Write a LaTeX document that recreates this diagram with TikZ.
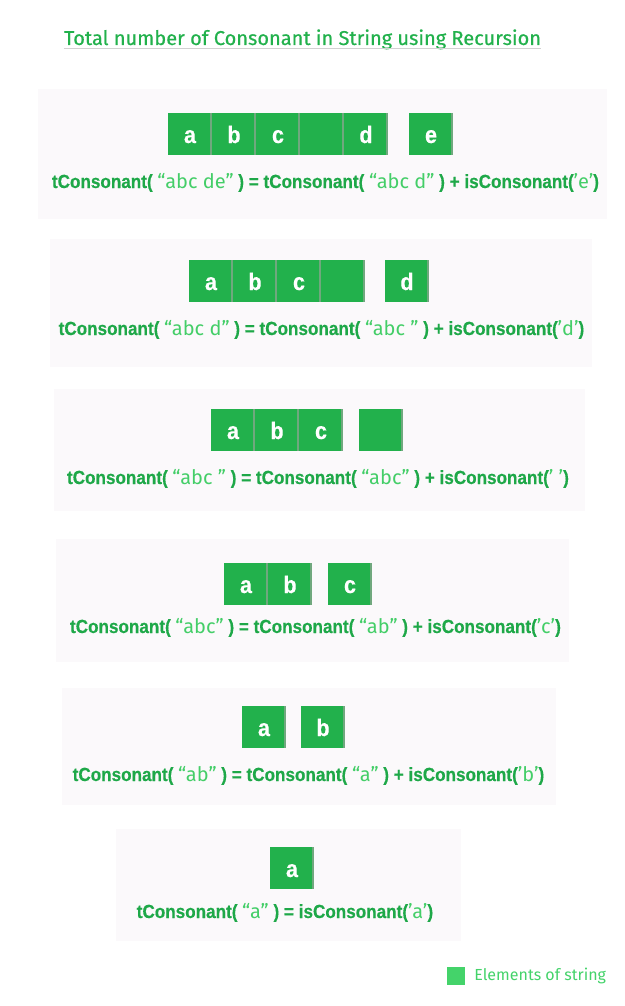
\documentclass[tikz,border=0pt]{standalone}
\usepackage{fontspec}
\setmainfont{Fira Sans}
\newfontfamily\condfont[FakeStretch=0.9,FakeBold=0.4]{Liberation Sans}
\newfontfamily\strfont{Fira Sans}
\newfontfamily\titlefont[FakeBold=0.5]{Fira Sans}
\usetikzlibrary{positioning}

\definecolor{cellgreen}{RGB}{34,177,76}
\definecolor{cellline}{RGB}{112,168,126}
\definecolor{eqgreen}{RGB}{30,168,72}
\definecolor{strgreen}{RGB}{68,206,104}
\definecolor{legendgreen}{RGB}{68,211,106}
\definecolor{panelgray}{RGB}{251,249,251}

\newcommand\cellwidth{44}
\newcommand\cellheight{42}
\newcommand\cellrow[2]{\pgfmathparse{#1}\let\x\pgfmathresult\def\celly{#2}}
\newcommand\cellgap[1]{
  \pgfmathparse{\x + #1}\let\x\pgfmathresult
}
\newcommand\strcell[2]{
  \fill[cellgreen] (\x, \celly) rectangle ++ (\cellwidth, \cellheight) ;
  \draw[cellline, line width=1.6pt] (\x + \cellwidth - 0.8, \celly) -- ++ (0, \cellheight) ;
  \node[celltext] (#1) at (\x + \cellwidth * 0.5, \celly + 30) {#2} ;
  \pgfmathparse{\x + \cellwidth}\let\x\pgfmathresult
}
\newcommand\qs[1]{{\strfont\mdseries\fontsize{20}{20}\selectfont\color{strgreen}#1}}

\tikzset{
  celltext/.style={anchor=base, inner sep=0pt, text=white, font=\condfont\bfseries\fontsize{24}{24}\selectfont},
  eqtext/.style={anchor=base, inner sep=0pt, text=eqgreen, font=\condfont\bfseries\fontsize{19}{20}\selectfont},
  panel/.style={fill=panelgray},
}

\begin{document}
\begin{tikzpicture}[x=1pt, y=-1pt]
    \fill[white] (0,0) rectangle (624,1006) ;
    \useasboundingbox (0,0) rectangle (624,1006) ;
    \node[anchor=base, inner sep=0pt, text=cellgreen, font=\titlefont\fontsize{20}{22}\selectfont] (title) at (302.5,45) {Total number of Consonant in String using Recursion} ;
    \draw[black!18, line width=0.8pt] ([yshift=-3.5pt]title.base west) -- ([yshift=-3.5pt]title.base east) ;
    \fill[panel] (38,89) rectangle (607,219) ;
    \fill[panel] (50,239) rectangle (592,367) ;
    \fill[panel] (54,389) rectangle (585,511) ;
    \fill[panel] (56,539) rectangle (569,662) ;
    \fill[panel] (62,688) rectangle (556,805) ;
    \fill[panel] (116,829) rectangle (461,941) ;
    \cellrow{168}{113}
    \strcell{ra1}{a}
    \strcell{rb1}{b}
    \strcell{rc1}{c}
    \strcell{rs1}{}
    \strcell{rd1}{d}
    \cellgap{21}
    \strcell{re1}{e}
    \node[eqtext] (eq1) at (325.5,188) {tConsonant( \qs{“abc de”} ) = tConsonant( \qs{“abc d”} ) + isConsonant(\qs{’e’})} ;
    \cellrow{189}{260}
    \strcell{ra2}{a}
    \strcell{rb2}{b}
    \strcell{rc2}{c}
    \strcell{rs2}{}
    \cellgap{20}
    \strcell{rd2}{d}
    \node[eqtext] (eq2) at (321.5,335) {tConsonant( \qs{“abc d”} ) = tConsonant( \qs{“abc ”} ) + isConsonant(\qs{’d’})} ;
    \cellrow{211}{409}
    \strcell{ra3}{a}
    \strcell{rb3}{b}
    \strcell{rc3}{c}
    \cellgap{16}
    \strcell{rs3}{}
    \node[eqtext] (eq3) at (318,484) {tConsonant( \qs{“abc ”} ) = tConsonant( \qs{“abc”} ) + isConsonant(\qs{’ ’})} ;
    \cellrow{224}{563}
    \strcell{ra4}{a}
    \strcell{rb4}{b}
    \cellgap{16}
    \strcell{rc4}{c}
    \node[eqtext] (eq4) at (315.5,633) {tConsonant( \qs{“abc”} ) = tConsonant( \qs{“ab”} ) + isConsonant(\qs{’c’})} ;
    \cellrow{242}{706}
    \strcell{ra5}{a}
    \cellgap{15}
    \strcell{rb5}{b}
    \node[eqtext] (eq5) at (308.5,781) {tConsonant( \qs{“ab”} ) = tConsonant( \qs{“a”} ) + isConsonant(\qs{’b’})} ;
    \cellrow{270}{847}
    \strcell{ra6}{a}
    \node[eqtext] (eq6) at (285,918) {tConsonant( \qs{“a”} ) = isConsonant(\qs{’a’})} ;
    \node[fill=legendgreen, minimum size=18pt, inner sep=0pt] (legbox) at (456,976) {} ;
    \node[right=9pt of legbox, inner sep=0pt, text=legendgreen, font=\fontsize{16}{18}\selectfont] (legtext) {Elements of string} ;
  \end{tikzpicture}
\end{document}
